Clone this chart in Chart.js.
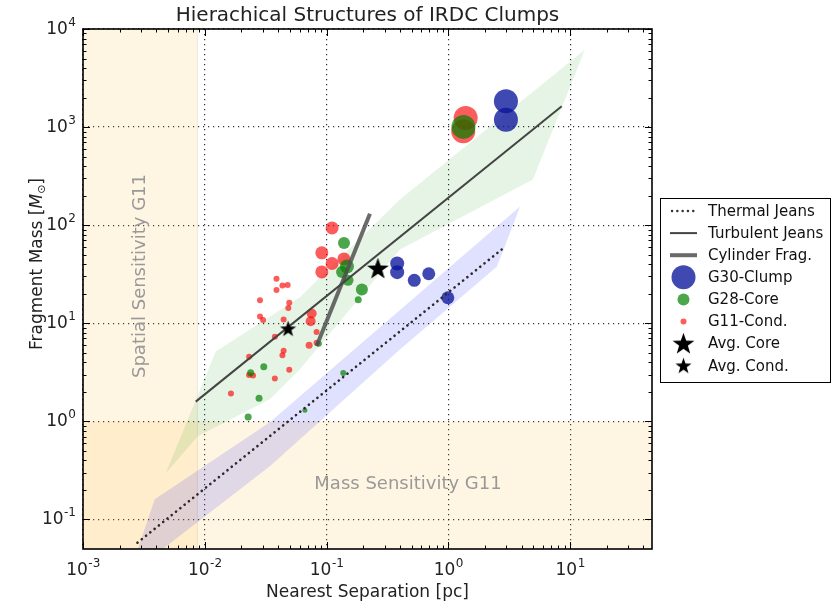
<!DOCTYPE html>
<html>
<head>
<meta charset="utf-8">
<script src="https://cdn.jsdelivr.net/npm/chart.js@4/dist/chart.umd.min.js"></script>
<style>
  html, body { margin: 0; padding: 0; background: #fff; }
</style>
</head>
<body>
<canvas id="chart" width="832" height="604"></canvas>
<script>
// axis ranges and decade ticks
const xRange = [1e-3, 47];
const yRange = [0.05, 1e4];
const xTickExps = [-3, -2, -1, 0, 1];
const yTickExps = [-1, 0, 1, 2, 3, 4];

// sensitivity limits
const spatialLimit = 0.0087;   // pc
const massLimit = 1.0;         // Msun

// G30 clumps
const g30Sep  = [2.97, 2.97, 0.38, 0.38, 0.525, 0.69, 0.99];
const g30Mass = [1830, 1190, 40.7, 33.2, 27.4, 32.0, 18.2];
const g30Size = [12, 12, 7, 7, 6.5, 6.5, 6.5];

// G28 cores
const g28Sep  = [1.33, 0.139, 0.147, 0.134, 0.150, 0.195, 0.182, 0.0865, 0.0305, 0.0238, 0.0279, 0.0227, 0.0664, 0.137];
const g28Mass = [1005, 65.9, 37.9, 33.4, 27.4, 22.1, 17.4, 6.17, 3.61, 3.13, 1.72, 1.11, 1.30, 3.11];
const g28Size = [12, 6, 7, 6, 5.5, 6, 3.5, 3, 3.5, 3.5, 3.5, 3.5, 2.5, 3];

// G11 condensations
const g11Sep  = [1.387, 1.325, 0.111, 0.0914, 0.111, 0.0914, 0.1387, 0.0754, 0.074, 0.0828, 0.0719, 0.0828,
                 0.0388, 0.0388, 0.0434, 0.0479, 0.0284, 0.0494, 0.0485, 0.0284, 0.0301, 0.0444, 0.0376,
                 0.0231, 0.0444, 0.0434, 0.0231, 0.0249, 0.0376, 0.0494, 0.0164];
const g11Mass = [1241, 906, 93.7, 52.3, 40.7, 33.4, 45.3, 12.6, 10.5, 8.13, 5.96, 6.35,
                 28.5, 21.8, 24.3, 24.6, 17.2, 16.2, 14.3, 11.7, 10.8, 10.9, 7.27,
                 4.55, 5.26, 4.71, 2.97, 2.93, 2.73, 3.35, 1.92];
const g11Size = [12, 12, 6.5, 6.5, 6.5, 6.5, 6.5, 5, 5, 3, 3.5, 3,
                 3, 3, 3, 3, 3, 3, 3, 3, 3, 3, 3,
                 3, 3, 3, 3, 3, 3, 3, 3];

// averages
const avgCoreSep = [0.264], avgCoreMass = [36.2];
const avgCondSep = [0.0483], avgCondMass = [8.8];

// model lines
const thermalSep = [0.0028, 2.74],  thermalMass = [0.058, 56.5];
const turbSep    = [0.00843, 8.53], turbMass    = [1.59, 1629];
const cylSep     = [0.0828, 0.227], cylMass     = [5.86, 130.6];

// shaded ranges
const greenBandSep  = [0.00478, 0.0123, 0.0604, 0.400, 13.2, 4.95, 1.51, 0.400, 0.0604, 0.0342, 0.00876];
const greenBandMass = [0.296, 5.17, 18.4, 183, 6150, 292, 135, 56.6, 3.39, 1.68, 0.705];
const blueBandSep   = [0.00282, 0.00388, 0.0342, 3.88, 2.51, 0.400, 0.0342, 0.00452];
const blueBandMass  = [0.05, 0.161, 0.98, 155, 37.9, 5.42, 0.349, 0.05];

const RED = 'rgba(250,0,0,0.64)';
const GREEN = 'rgba(0,128,0,0.7)';
const BLUE = 'rgba(10,20,155,0.78)';
const BAND = 'rgba(255,165,0,0.11)';
const FONT = '"DejaVu Sans", Verdana, sans-serif';

const pts = (xs, ys) => xs.map((x, i) => ({x: x, y: ys[i]}));

function starImage(r) {
  const c = document.createElement('canvas');
  const s = Math.ceil(r * 2 + 2);
  c.width = s; c.height = s;
  const g = c.getContext('2d');
  g.translate(s / 2, s / 2 + r * 0.06);
  g.beginPath();
  for (let i = 0; i < 10; i++) {
    const a = -Math.PI / 2 + i * Math.PI / 5;
    const rr = i % 2 ? r * 0.4 : r;
    g.lineTo(rr * Math.cos(a), rr * Math.sin(a));
  }
  g.closePath();
  g.fillStyle = '#000';
  g.fill();
  return c;
}
const bigStar = starImage(11.5);
const smallStar = starImage(8.5);

function makeTicks(exps, min, max) {
  const out = [];
  exps.forEach(e => {
    for (let m = 1; m <= 9; m++) {
      const v = m * Math.pow(10, e);
      if (v >= min * 0.999 && v <= max * 1.001) out.push({value: v, major: m === 1});
    }
  });
  return out;
}

const gridColor = c => (c.tick && c.tick.major) ? 'rgba(0,0,0,0.8)' : 'rgba(0,0,0,0)';

// inward ticks on all four sides + frame
const frameTicks = {
  id: 'frameTicks',
  afterDatasetsDraw(chart) {
    const {ctx, chartArea: a, scales: {x, y}} = chart;
    ctx.save();
    ctx.strokeStyle = '#000';
    ctx.lineWidth = 1;
    ctx.beginPath();
    x.ticks.forEach(t => {
      const px = Math.round(x.getPixelForValue(t.value)) + 0.5;
      const len = t.major ? 7 : 3.5;
      ctx.moveTo(px, a.bottom); ctx.lineTo(px, a.bottom - len);
      ctx.moveTo(px, a.top); ctx.lineTo(px, a.top + len);
    });
    y.ticks.forEach(t => {
      const py = Math.round(y.getPixelForValue(t.value)) + 0.5;
      const len = t.major ? 7 : 3.5;
      ctx.moveTo(a.left, py); ctx.lineTo(a.left + len, py);
      ctx.moveTo(a.right, py); ctx.lineTo(a.right - len, py);
    });
    ctx.stroke();
    ctx.lineWidth = 1.6;
    ctx.strokeRect(a.left, a.top, a.right - a.left, a.bottom - a.top);
    ctx.restore();
  }
};

// tick labels, titles, annotations, legend
const textLayer = {
  id: 'textLayer',
  afterDraw(chart) {
    const {ctx, chartArea: a, scales: {x, y}} = chart;
    ctx.save();
    ctx.fillStyle = '#222';
    const base = '17px ' + FONT, sup = '12px ' + FONT;
    ctx.textBaseline = 'alphabetic';
    ctx.textAlign = 'left';

    // x tick labels
    xTickExps.forEach(e => {
      const px = x.getPixelForValue(Math.pow(10, e));
      ctx.font = base; const w1 = ctx.measureText('10').width;
      ctx.font = sup; const s = String(e); const w2 = ctx.measureText(s).width;
      const left = px - (w1 + w2) / 2;
      ctx.font = base; ctx.fillText('10', left, 575);
      ctx.font = sup; ctx.fillText(s, left + w1 + 0.5, 567);
    });
    // y tick labels
    yTickExps.forEach(e => {
      const py = y.getPixelForValue(Math.pow(10, e));
      ctx.font = sup; const s = String(e); const w2 = ctx.measureText(s).width;
      ctx.font = base; const w1 = ctx.measureText('10').width;
      const right = 76;
      ctx.fillText('10', right - w2 - w1 - 0.5, py + 5);
      ctx.font = sup; ctx.fillText(s, right - w2, py - 3);
    });

    // title
    ctx.textAlign = 'center';
    ctx.font = '20px ' + FONT;
    ctx.fillText('Hierachical Structures of IRDC Clumps', (a.left + a.right) / 2, 21);
    // x label
    ctx.font = '17px ' + FONT;
    ctx.fillText('Nearest Separation [pc]', (a.left + a.right) / 2, 597);

    // y label with italic M and subscript sun
    ctx.save();
    ctx.translate(42, 264);
    ctx.rotate(-Math.PI / 2);
    ctx.textAlign = 'left';
    const parts = [
      {t: 'Fragment Mass [', f: '17px ' + FONT, dy: 0},
      {t: 'M', f: 'italic 17px ' + FONT, dy: 0},
      {t: '\u2299', f: '11px ' + FONT, dy: 3},
      {t: ']', f: '17px ' + FONT, dy: 0}
    ];
    let total = 0;
    parts.forEach(p => { ctx.font = p.f; p.w = ctx.measureText(p.t).width; total += p.w; });
    let cx = -total / 2;
    parts.forEach(p => { ctx.font = p.f; ctx.fillText(p.t, cx, p.dy); cx += p.w; });
    ctx.restore();

    // sensitivity annotations
    ctx.fillStyle = '#999';
    ctx.font = '18px ' + FONT;
    ctx.textBaseline = 'middle';
    ctx.textAlign = 'center';
    ctx.fillText('Mass Sensitivity G11', 408, 484);
    ctx.save();
    ctx.translate(140, 276);
    ctx.rotate(-Math.PI / 2);
    ctx.fillText('Spatial Sensitivity G11', 0, 0);
    ctx.restore();

    // legend
    const bx = 660.5, by = 198.5, bw = 170, bh = 184;
    ctx.fillStyle = '#fff';
    ctx.fillRect(bx, by, bw, bh);
    ctx.strokeStyle = '#000';
    ctx.lineWidth = 1;
    ctx.strokeRect(bx, by, bw, bh);
    const items = [
      {label: 'Thermal Jeans', kind: 'dot'},
      {label: 'Turbulent Jeans', kind: 'thin'},
      {label: 'Cylinder Frag.', kind: 'thick'},
      {label: 'G30-Clump', kind: 'circle', color: BLUE, r: 12},
      {label: 'G28-Core', kind: 'circle', color: GREEN, r: 6},
      {label: 'G11-Cond.', kind: 'circle', color: RED, r: 3},
      {label: 'Avg. Core', kind: 'star', img: bigStar},
      {label: 'Avg. Cond.', kind: 'star', img: smallStar}
    ];
    ctx.font = '15px ' + FONT;
    ctx.textAlign = 'left';
    ctx.textBaseline = 'middle';
    items.forEach((it, i) => {
      const yy = 211 + i * 22.1;
      const mx = 683.5;
      ctx.save();
      if (it.kind === 'dot') {
        ctx.strokeStyle = '#333'; ctx.lineWidth = 2.4; ctx.lineCap = 'round';
        ctx.setLineDash([0.1, 5.2]);
        ctx.beginPath(); ctx.moveTo(672, yy); ctx.lineTo(697, yy); ctx.stroke();
      } else if (it.kind === 'thin') {
        ctx.strokeStyle = '#444'; ctx.lineWidth = 2;
        ctx.beginPath(); ctx.moveTo(670, yy); ctx.lineTo(697, yy); ctx.stroke();
      } else if (it.kind === 'thick') {
        ctx.strokeStyle = 'rgba(80,80,80,0.85)'; ctx.lineWidth = 4;
        ctx.beginPath(); ctx.moveTo(670, yy); ctx.lineTo(697, yy); ctx.stroke();
      } else if (it.kind === 'circle') {
        ctx.fillStyle = it.color;
        ctx.beginPath(); ctx.arc(mx, yy, it.r, 0, Math.PI * 2); ctx.fill();
      } else {
        ctx.drawImage(it.img, mx - it.img.width / 2, yy - it.img.height / 2);
      }
      ctx.restore();
      ctx.fillStyle = '#111';
      ctx.fillText(it.label, 708, yy + 1);
    });
    ctx.restore();
  }
};

const polygon = (xs, ys, color, order, border) => ({
  type: 'line', data: pts(xs, ys), fill: 'shape', backgroundColor: color,
  borderColor: border || 'rgba(0,0,0,0)', borderWidth: border ? 1 : 0,
  pointRadius: 0, tension: 0, order: order
});
const modelLine = (xs, ys, color, width, dash, order) => ({
  type: 'line', data: pts(xs, ys), borderColor: color, borderWidth: width,
  borderDash: dash, borderCapStyle: dash.length ? 'round' : 'butt',
  pointRadius: 0, fill: false, order: order
});
const scatter = (xs, ys, color, sizes, order) => ({
  type: 'scatter', data: pts(xs, ys), backgroundColor: color, borderWidth: 0,
  pointRadius: sizes, pointHoverRadius: sizes, order: order
});

new Chart(document.getElementById('chart'), {
  type: 'scatter',
  data: {
    datasets: [
      polygon([xRange[0], spatialLimit, spatialLimit, xRange[0]], [yRange[0], yRange[0], yRange[1], yRange[1]], BAND, 9, 'rgba(120,120,140,0.15)'),
      polygon([xRange[0], xRange[1], xRange[1], xRange[0]], [yRange[0], yRange[0], massLimit, massLimit], BAND, 8),
      polygon(greenBandSep, greenBandMass, 'rgba(0,150,0,0.1)', 7),
      polygon(blueBandSep, blueBandMass, 'rgba(0,0,255,0.12)', 6),
      scatter(g11Sep, g11Mass, RED, g11Size, 5),
      scatter(g28Sep, g28Mass, GREEN, g28Size, 4),
      scatter(g30Sep, g30Mass, BLUE, g30Size, 3),
      modelLine(thermalSep, thermalMass, '#2a2a2a', 2.6, [0.1, 5.4], 2),
      modelLine(turbSep, turbMass, '#444', 2, [], 2),
      modelLine(cylSep, cylMass, 'rgba(80,80,80,0.85)', 4, [], 2),
      {type: 'scatter', data: pts(avgCoreSep, avgCoreMass), pointStyle: bigStar, pointRadius: 12, order: 1},
      {type: 'scatter', data: pts(avgCondSep, avgCondMass), pointStyle: smallStar, pointRadius: 9, order: 1}
    ]
  },
  options: {
    responsive: false,
    devicePixelRatio: 1,
    animation: false,
    events: [],
    layout: {padding: {left: 0, right: 180, top: 29, bottom: 0}},
    plugins: {legend: {display: false}, tooltip: {enabled: false}, title: {display: false}},
    scales: {
      x: {
        type: 'logarithmic', min: xRange[0], max: xRange[1],
        afterBuildTicks: s => { s.ticks = makeTicks(xTickExps, xRange[0], xRange[1]); },
        afterFit: s => { s.height = 55; },
        ticks: {display: false},
        grid: {color: gridColor, lineWidth: 1.2, drawTicks: false},
        border: {display: false, dash: [1.2, 3.8]}
      },
      y: {
        type: 'logarithmic', min: yRange[0], max: yRange[1],
        afterBuildTicks: s => { s.ticks = makeTicks(yTickExps, yRange[0], yRange[1]); },
        afterFit: s => { s.width = 83; },
        ticks: {display: false},
        grid: {color: gridColor, lineWidth: 1.2, drawTicks: false},
        border: {display: false, dash: [1.2, 3.8]}
      }
    }
  },
  plugins: [frameTicks, textLayer]
});
</script>
</body>
</html>
